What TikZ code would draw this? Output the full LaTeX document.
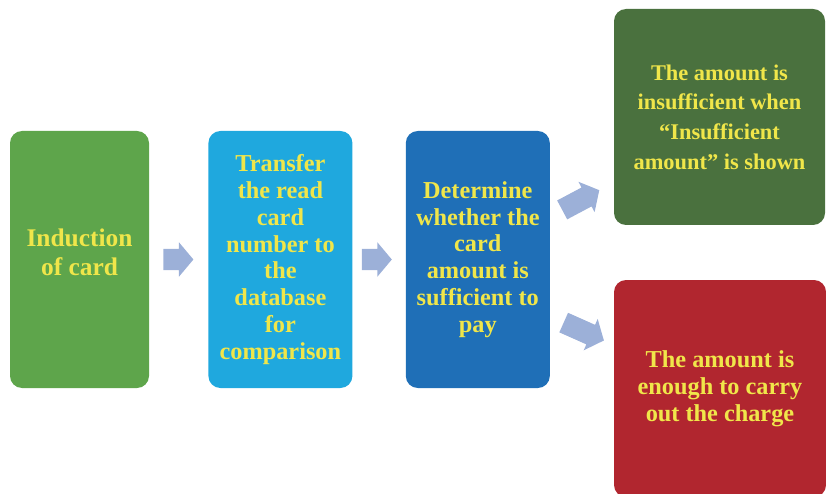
\documentclass[tikz,border=0pt]{standalone}
\usepackage{fontspec}
\setmainfont{Liberation Serif}
\usetikzlibrary{positioning,calc}
\usetikzlibrary{shapes.arrows}

\definecolor{cardgreen}{HTML}{5EA54B}
\definecolor{skyblue}{HTML}{1FA8DE}
\definecolor{deepblue}{HTML}{1F6FB7}
\definecolor{darkgreen}{HTML}{4A713E}
\definecolor{alarmred}{HTML}{B1262F}
\definecolor{textyellow}{HTML}{F0E64A}
\definecolor{arrowblue}{HTML}{9CB0D8}

\begin{document}
\begin{tikzpicture}[x=1pt,y=1pt,
      stage/.style = {rectangle, rounded corners=12pt, inner sep=0pt,
      align=center, text=textyellow,
      font=\bfseries\fontsize{24.3}{26.8}\selectfont,
      minimum width=144pt, minimum height=257pt},
      flow/.style = {single arrow, fill=arrowblue, draw=none,
      inner xsep=0pt, inner ysep=10.5pt, anchor=tail,
      minimum width=34pt, minimum height=30pt,
      single arrow head extend=6.5pt, single arrow tip angle=100}]

   \useasboundingbox (0,0) rectangle (826,493);

   % the three steps
   \node[stage, fill=cardgreen, minimum width=139pt] (card) at (79.5,233.5) {};
   \node[text=textyellow, align=center, inner sep=0pt,
      font=\bfseries\fontsize{25.4}{29}\selectfont]
      (cardtext) at ([yshift=7pt]card.center) {Induction\\of card};
   \node[stage, fill=skyblue, right=59pt of card] (transfer)
      {Transfer\\the read\\card\\number to\\the\\database\\for\\comparison};
   \node[stage, fill=deepblue, right=53pt of transfer] (judge)
      {Determine\\whether the\\card\\amount is\\sufficient to\\pay};

   % the two outcomes
   \node[stage, fill=darkgreen, minimum width=211pt, minimum height=216pt,
      font=\bfseries\fontsize{22.4}{29.7}\selectfont] (short) at (719.5,376)
      {The amount is\\insufficient when\\“Insufficient\\amount” is shown};
   \node[stage, fill=alarmred, minimum width=212pt, minimum height=217pt]
      (enough) at (720,104.5)
      {The amount is\\enough to carry\\out the charge};

   % block arrows
   \node[flow] (a1) at ([xshift=14pt]card.east) {};
   \node[flow] (a2) at ([xshift=9pt]transfer.east) {};
   \node[flow, rotate=28, minimum height=42pt] (a3) at (562,283) {};
   \node[flow, rotate=-24, minimum height=44pt] (a4) at (563.5,170.5) {};
\end{tikzpicture}
\end{document}
